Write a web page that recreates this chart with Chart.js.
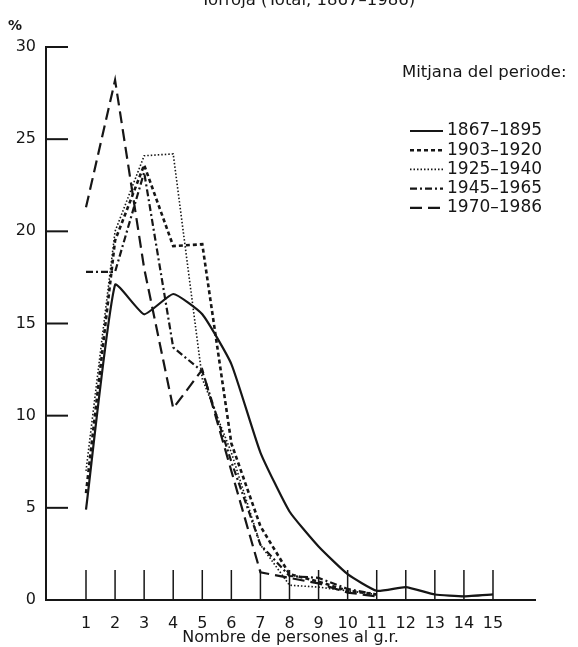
<!DOCTYPE html>
<html>
<head>
<meta charset="utf-8">
<script src="https://cdn.jsdelivr.net/npm/chart.js@4.4.0/dist/chart.umd.min.js"></script>
<style>
html, body { margin: 0; padding: 0; background: #fff; }
#wrap { width: 578px; height: 647px; position: relative; }
</style>
</head>
<body>
<div id="wrap"><canvas id="grchart"></canvas></div>
<script>
const persones = [1, 2, 3, 4, 5, 6, 7, 8, 9, 10, 11, 12, 13, 14, 15];
const p1867 = [4.9, 17.1, 15.5, 16.6, 15.5, 12.8, 8.0, 4.8, 2.9, 1.4, 0.5, 0.7, 0.3, 0.2, 0.3];
const p1903 = [5.8, 19.5, 23.6, 19.2, 19.3, 8.5, 4.0, 1.4, 1.0, 0.5, 0.3];
const p1925 = [7.0, 20.0, 24.1, 24.2, 12.0, 8.0, 3.0, 0.8, 0.7, 0.5, 0.3];
const p1945 = [17.8, 17.8, 23.2, 13.7, 12.4, 7.5, 3.0, 1.3, 1.2, 0.6, 0.3];
const p1970 = [21.3, 28.2, 18.0, 10.4, 12.5, 7.0, 1.5, 1.2, 0.9, 0.4, 0.2];
const periodes = ["1867\u20131895", "1903\u20131920", "1925\u20131940", "1945\u20131965", "1970\u20131986"];
const yTicks = [0, 5, 10, 15, 20, 25, 30];

const FONT = "'DejaVu Sans', sans-serif";
const INK = "#161616";

function punts(vals) {
    return vals.map((v, i) => ({ x: persones[i], y: v }));
}

// ticks inside the plot, title, % sign and legend
const extres = {
    id: "extres",
    afterDraw(chart) {
        const ctx = chart.ctx;
        const area = chart.chartArea;
        const xs = chart.scales.x;
        const ys = chart.scales.y;
        ctx.save();
        ctx.strokeStyle = INK;
        ctx.lineWidth = 2;
        yTicks.forEach(v => {
            if (v === 0) return;
            const y = ys.getPixelForValue(v);
            ctx.beginPath();
            ctx.moveTo(area.left, y);
            ctx.lineTo(area.left + 22, y);
            ctx.stroke();
        });
        ctx.lineWidth = 1.5;
        persones.forEach(p => {
            const x = xs.getPixelForValue(p);
            ctx.beginPath();
            ctx.moveTo(x, area.bottom);
            ctx.lineTo(x, area.bottom - 30);
            ctx.stroke();
        });

        ctx.fillStyle = INK;
        ctx.font = "16.5px " + FONT;
        ctx.textAlign = "center";
        ctx.textBaseline = "alphabetic";
        ctx.fillText("Torroja (Total, 1867\u20131986)", 308, 5);
        ctx.textAlign = "left";
        ctx.textBaseline = "middle";
        ctx.font = "bold 14px " + FONT;
        ctx.fillText("%", 8, 26);

        ctx.font = "16.5px " + FONT;
        ctx.fillText("Mitjana del periode:", 402, 73);
        chart.data.datasets.forEach((ds, i) => {
            const y = 131 + i * 19.2;
            ctx.setLineDash(ds.borderDash || []);
            ctx.lineWidth = ds.borderWidth;
            ctx.beginPath();
            ctx.moveTo(410, y);
            ctx.lineTo(443, y);
            ctx.stroke();
            ctx.setLineDash([]);
            ctx.font = "17px " + FONT;
            ctx.fillText(ds.label, 447, y);
        });
        ctx.restore();
    }
};

new Chart(document.getElementById("grchart"), {
    type: "line",
    data: {
        datasets: [{
            label: periodes[0],
            data: punts(p1867),
            borderColor: INK,
            borderWidth: 2.2,
            tension: 0.15
        }, {
            label: periodes[1],
            data: punts(p1903),
            borderColor: INK,
            borderWidth: 2.6,
            borderDash: [4, 3]
        }, {
            label: periodes[2],
            data: punts(p1925),
            borderColor: INK,
            borderWidth: 1.6,
            borderDash: [1.5, 2]
        }, {
            label: periodes[3],
            data: punts(p1945),
            borderColor: INK,
            borderWidth: 2.2,
            borderDash: [7, 3, 2, 3]
        }, {
            label: periodes[4],
            data: punts(p1970),
            borderColor: INK,
            borderWidth: 2.2,
            borderDash: [12, 6]
        }]
    },
    options: {
        responsive: true,
        maintainAspectRatio: false,
        animation: false,
        layout: { padding: { top: 47, right: 43, left: 0, bottom: 0 } },
        elements: { point: { radius: 0 }, line: { tension: 0, fill: false } },
        plugins: { legend: { display: false }, tooltip: { enabled: false } },
        scales: {
            x: {
                type: "linear",
                min: -0.376,
                max: 16.445,
                afterBuildTicks: s => { s.ticks = persones.map(v => ({ value: v })); },
                afterFit: s => { s.height = 47; },
                grid: { display: false, drawTicks: false, tickLength: 0 },
                border: { display: true, color: INK, width: 2 },
                ticks: { color: INK, font: { family: FONT, size: 16 }, padding: 14, autoSkip: false, maxRotation: 0 },
                title: {
                    display: true,
                    text: "Nombre de persones al g.r.",
                    color: INK,
                    font: { family: FONT, size: 16 },
                    padding: { top: 0, bottom: 0 }
                }
            },
            y: {
                min: 0,
                max: 30,
                afterBuildTicks: s => { s.ticks = yTicks.map(v => ({ value: v })); },
                afterFit: s => { s.width = 46; },
                grid: { display: false, drawTicks: false, tickLength: 0 },
                border: { display: true, color: INK, width: 2 },
                ticks: { color: INK, font: { family: FONT, size: 16 }, padding: 10 }
            }
        }
    },
    plugins: [extres]
});
</script>
</body>
</html>
